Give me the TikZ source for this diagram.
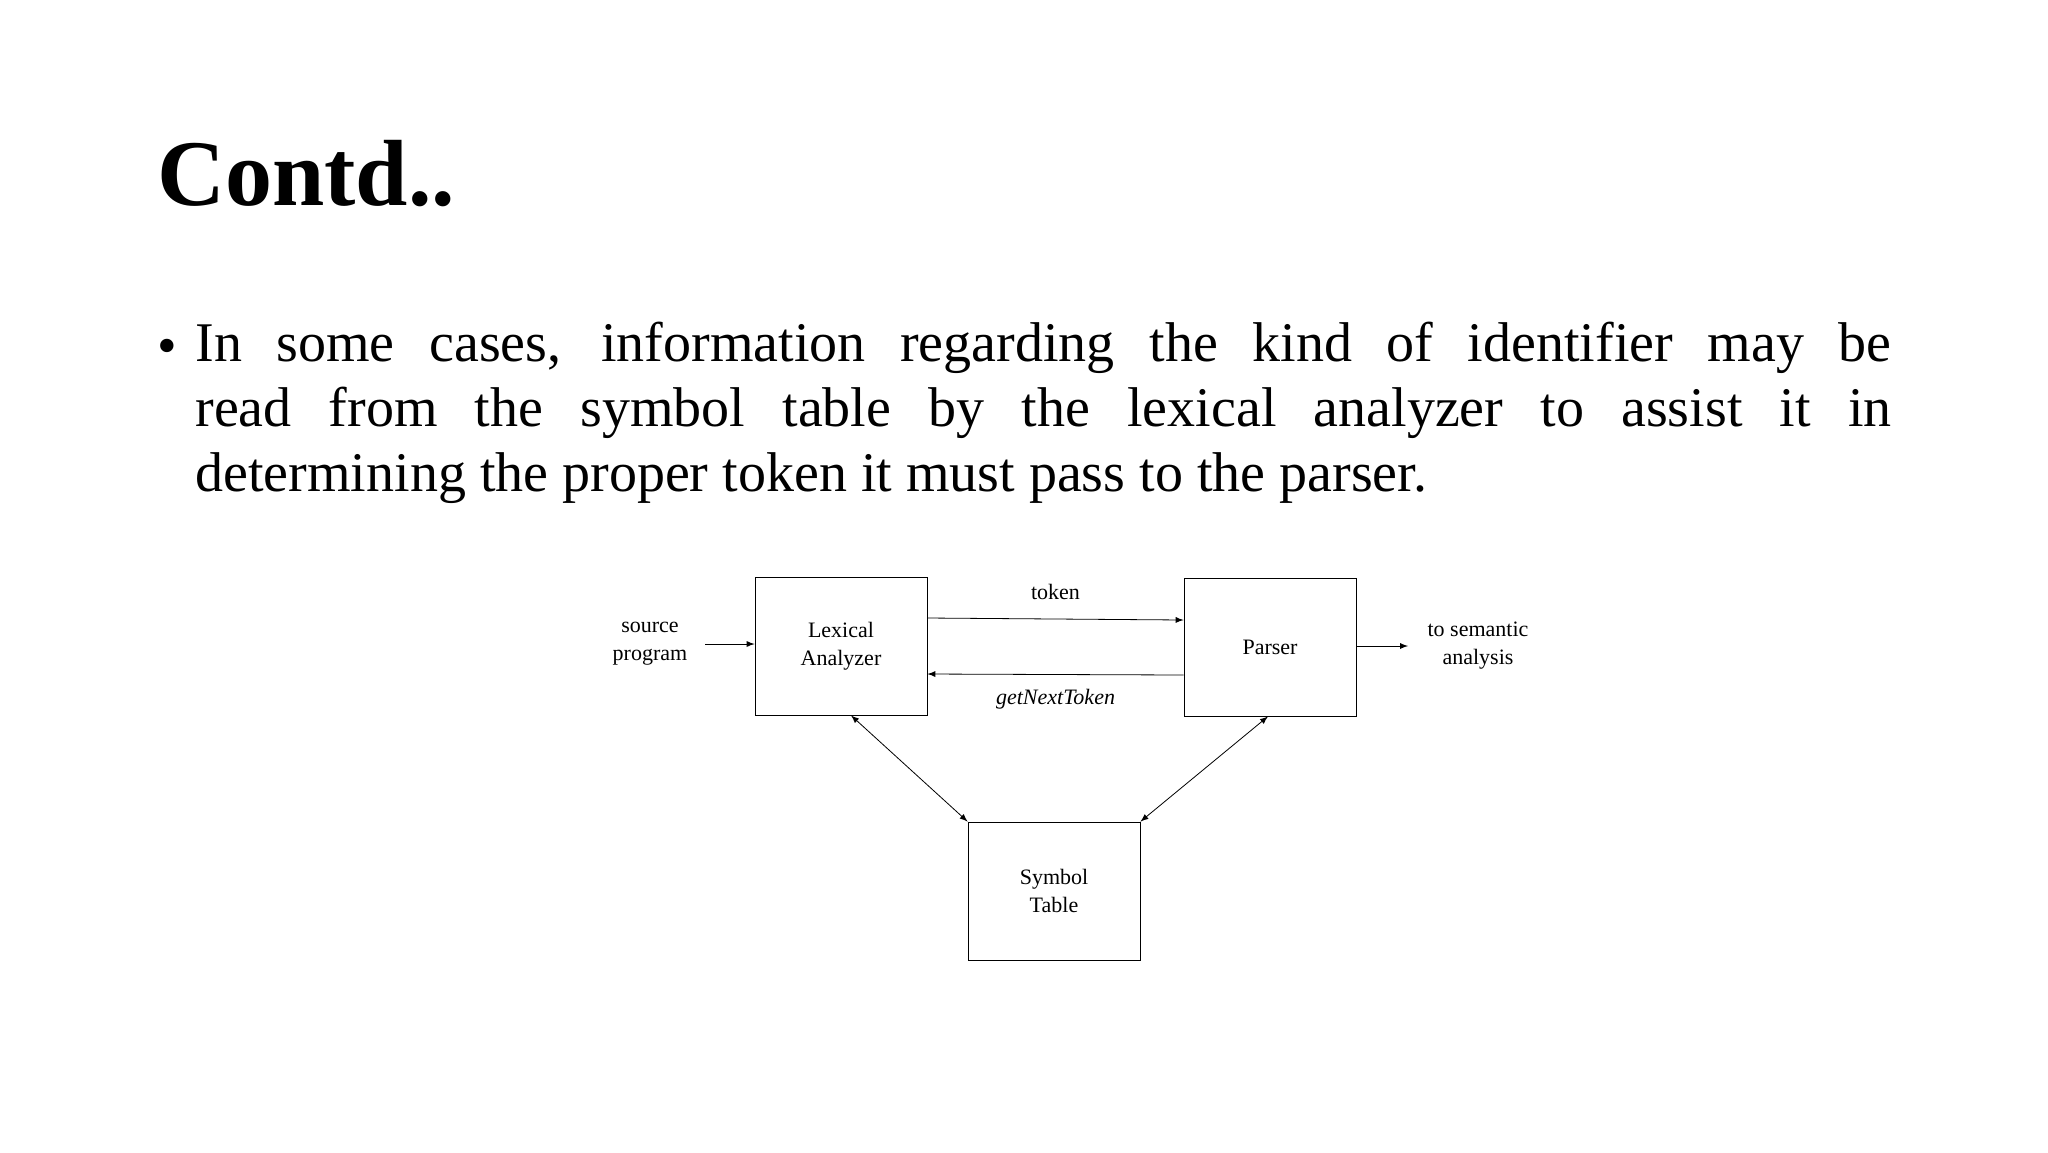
\documentclass[tikz,border=0pt]{standalone}
\usepackage{fontspec}
\setmainfont{Liberation Serif}
\usetikzlibrary{positioning}

\begin{document}
\begin{tikzpicture}[x=0.5pt, y=-0.5pt,
    box/.style = {draw, thin, minimum width=86pt, minimum height=69pt, align=center, font=\fontsize{11}{14}\selectfont},
    lbl/.style = {align=center, font=\fontsize{11}{14}\selectfont}]
        \useasboundingbox (0,0) rectangle (2048,1152);
        \node[anchor=base west, inner sep=0pt, font=\fontsize{47}{52}\selectfont\bfseries] (title) at (157,205) {Contd..};
        \node[anchor=base west, font=\fontsize{28}{32.5}\selectfont] (dot) at (150,364) {\textbullet};
        \node[anchor=north west, inner sep=0pt, text width=848pt, align=justify, font=\fontsize{28}{32.5}\selectfont] (body) at (195,322)
            {In some cases, information regarding the kind of identifier may be\linebreak read from the symbol table by the lexical analyzer to assist it in\linebreak determining the proper token it must pass to the parser.};

        \node[box] (lex) at (841,646) {Lexical\\Analyzer};
        \node[box] (par) at (1270,647) {Parser};
        \node[box] (sym) at (1054,891) {Symbol\\Table};
        \node[lbl] (src) at (650,644) {source\\program};
        \node[lbl] (sem) at (1478,646) {to semantic\\analysis};
        \coordinate (in) at (705,644);
        \coordinate (out) at (1408,646);

        \draw[-latex] (in) -- (lex.west |- in);
        \draw[-latex] (par.east |- out) -- (out);
        \draw[-latex] ([yshift=14pt]lex.east) -- ([yshift=13.5pt]par.west) node[midway, above=6pt, lbl] {token};
        \draw[-latex] ([yshift=-14pt]par.west) -- ([yshift=-14pt]lex.east) node[midway, below=4pt, lbl] {\itshape getNextToken};
        \draw[latex-latex] ([xshift=5pt]lex.south) -- (sym.north west);
        \draw[latex-latex] ([xshift=-1pt]par.south) -- (sym.north east);
    \end{tikzpicture}
\end{document}
